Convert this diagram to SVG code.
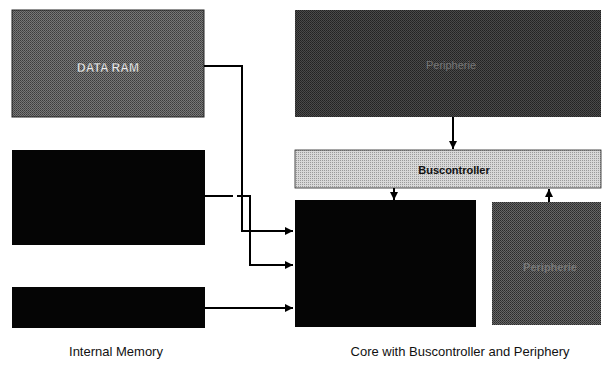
<svg xmlns="http://www.w3.org/2000/svg" width="604" height="374" viewBox="0 0 604 374">
<style>
.lbl{font-family:"Liberation Sans",Arial,sans-serif;font-size:13px;fill:#111;text-anchor:middle}
.in{font-family:"Liberation Sans",Arial,sans-serif;text-anchor:middle;dominant-baseline:central}
.wire{fill:none;stroke:#000;stroke-width:2}
</style>
<defs>
<pattern id="ditherMid" width="2" height="2" patternUnits="userSpaceOnUse">
<rect width="2" height="2" fill="#777"/><rect width="1" height="1" fill="#3c3c3c"/><rect x="1" y="1" width="1" height="1" fill="#4c4c4c"/>
</pattern>
<pattern id="ditherDark" width="2" height="2" patternUnits="userSpaceOnUse">
<rect width="2" height="2" fill="#4a4a4a"/><rect width="1" height="1" fill="#222"/><rect x="1" y="1" width="1" height="1" fill="#2a2a2a"/>
</pattern>
<pattern id="ditherDark2" width="2" height="2" patternUnits="userSpaceOnUse">
<rect width="2" height="2" fill="#666"/><rect width="1" height="1" fill="#2a2a2a"/><rect x="1" y="1" width="1" height="1" fill="#383838"/>
</pattern>
<pattern id="ditherLight" width="2" height="2" patternUnits="userSpaceOnUse">
<rect width="2" height="2" fill="#d8d8d8"/><rect width="1" height="1" fill="#9a9a9a"/>
</pattern>
<marker id="arr" viewBox="0 0 8 8" refX="8" refY="4" markerWidth="4" markerHeight="4" orient="auto" markerUnits="strokeWidth">
<path d="M0,0 L8,4 L0,8 Z" fill="#000"/>
</marker>
</defs>
<g id="data-ram">
<rect x="12" y="10" width="192" height="107" fill="url(#ditherMid)" stroke="#222" stroke-width="1"/>
<text class="in" x="108" y="68" font-size="12" font-weight="bold" fill="#eee" stroke="#333" stroke-width="0.3">DATA RAM</text>
</g>
<g id="memory-2">
<rect x="12" y="150" width="193" height="95" fill="#050505"/>
</g>
<g id="memory-3">
<rect x="12" y="287" width="193" height="41" fill="#050505"/>
</g>
<g id="peripherie-top">
<rect x="295" y="10" width="306" height="107" fill="url(#ditherDark)"/>
<text class="in" x="451" y="65" font-size="11" fill="#777">Peripherie</text>
</g>
<g id="buscontroller">
<rect x="295" y="150" width="306" height="38" fill="url(#ditherLight)" stroke="#222" stroke-width="0.8"/>
<text class="in" x="454" y="170" font-size="11" font-weight="bold" fill="#111">Buscontroller</text>
</g>
<g id="core">
<rect x="295" y="200" width="181" height="127" fill="#050505"/>
</g>
<g id="peripherie-bottom">
<rect x="492" y="202" width="109" height="123" fill="url(#ditherDark2)"/>
<text class="in" x="550" y="267" font-size="11" font-weight="bold" fill="#777">Peripherie</text>
</g>
<g id="connectors">
<polyline class="wire" points="204,66 242,66 242,231 293,231" marker-end="url(#arr)"/>
<polyline class="wire" points="205,196 233,196"/>
<polyline class="wire" points="237,196 250,196 250,265 293,265" marker-end="url(#arr)"/>
<polyline class="wire" points="205,308 293,308" marker-end="url(#arr)"/>
<line class="wire" x1="453" y1="117" x2="453" y2="149" marker-end="url(#arr)"/>
<line class="wire" x1="394" y1="188" x2="394" y2="200" marker-end="url(#arr)"/>
<line class="wire" x1="549" y1="202" x2="549" y2="189" marker-end="url(#arr)"/>
</g>
<g id="labels">
<text class="lbl" x="116" y="356">Internal Memory</text>
<text class="lbl" x="460" y="356">Core with Buscontroller and Periphery</text>
</g>
</svg>
